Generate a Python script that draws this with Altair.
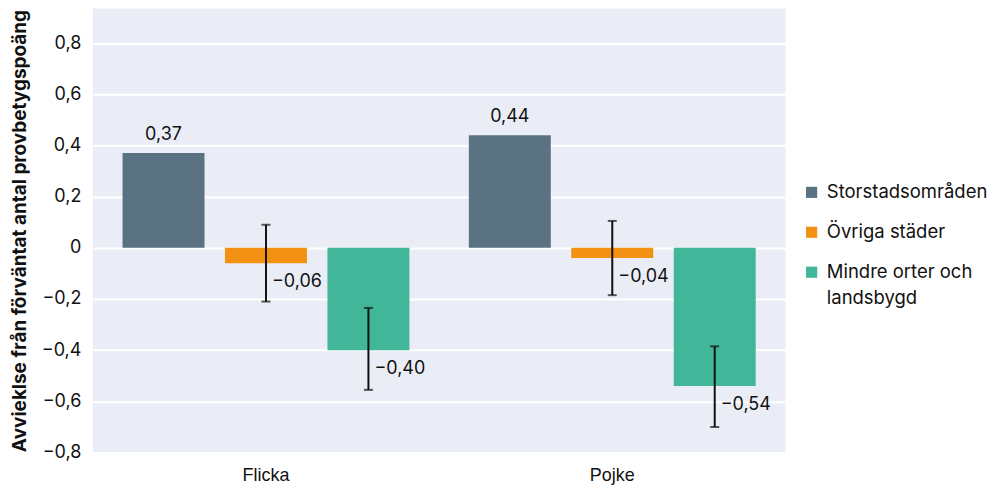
import altair as alt
import pandas as pd

groups = ["Flicka", "Flicka", "Flicka", "Pojke", "Pojke", "Pojke"]
areas = ["Storstadsområden", "Övriga städer", "Mindre orter och landsbygd"] * 2
values = [0.37, -0.06, -0.40, 0.44, -0.04, -0.54]
err_lo = [None, -0.21, -0.555, None, -0.185, -0.70]
err_hi = [None, 0.09, -0.235, None, 0.105, -0.385]

area_order = ["Storstadsområden", "Övriga städer", "Mindre orter och landsbygd"]
colors = ["#5b7282", "#f39113", "#41b699"]

df = pd.DataFrame({"group": groups, "area": areas, "value": values,
                   "lo": err_lo, "hi": err_hi})

FONT = "Inter"

x = alt.X("group:N", title=None,
          scale=alt.Scale(paddingInner=0, paddingOuter=0),
          axis=alt.Axis(labelAngle=0, labelFontSize=18, labelFont="Liberation Sans",
                        labelColor="#111", ticks=False, domain=False, labelPadding=14))
xo = alt.XOffset("area:N", sort=area_order,
                 scale=alt.Scale(paddingInner=0.2, paddingOuter=0.29))
y_scale = alt.Scale(domain=[-0.8, 0.935], nice=False)

base = alt.Chart(df)

bars = base.mark_bar().encode(
    x=x, xOffset=xo,
    y=alt.Y("value:Q", scale=y_scale,
            title="Avvieklse från förväntat antal provbetygspoäng",
            axis=alt.Axis(values=[-0.8, -0.6, -0.4, -0.2, 0, 0.2, 0.4, 0.6, 0.8],
                          labelExpr="datum.value == 0 ? '0' : replace(format(datum.value, '.1f'), '.', ',')",
                          labelFontSize=18, labelFont=FONT, labelColor="#111",
                          ticks=False, domain=False, gridColor="white", gridWidth=2,
                          titleFontSize=19, titleFont=FONT, titleFontWeight="bold",
                          titleColor="#111", labelPadding=12, titlePadding=12)),
    color=alt.Color("area:N", sort=area_order,
                    scale=alt.Scale(domain=area_order, range=colors),
                    legend=alt.Legend(title=None, symbolType="square", symbolSize=125,
                                      labelFontSize=18.5, labelFont=FONT, labelColor="#111",
                                      rowPadding=21, orient="none", legendX=711, legendY=175,
                                      labelOffset=6, labelLimit=400, symbolStrokeWidth=0,
                                      labelExpr="datum.label == 'Mindre orter och landsbygd' ? ['Mindre orter och', 'landsbygd'] : datum.label")),
)

labeled = base.transform_calculate(
    txt="replace(format(datum.value, '.2f'), '.', ',')"
)

pos_text = labeled.transform_filter("datum.value > 0").mark_text(
    fontSize=18, font=FONT, color="#111", baseline="bottom", dy=-9
).encode(x=x, xOffset=xo, y=alt.Y("value:Q", scale=y_scale), text="txt:N")

err = base.transform_filter("isValid(datum.lo)")

rules = err.mark_rule(color="#111", strokeWidth=2).encode(
    x=x, xOffset=xo, y=alt.Y("lo:Q", scale=y_scale), y2="hi:Q")
cap_lo = err.mark_tick(color="#111", orient="horizontal", size=9, thickness=2).encode(
    x=x, xOffset=xo, y=alt.Y("lo:Q", scale=y_scale))
cap_hi = err.mark_tick(color="#111", orient="horizontal", size=9, thickness=2).encode(
    x=x, xOffset=xo, y=alt.Y("hi:Q", scale=y_scale))

neg_text = labeled.transform_filter("datum.value < 0").mark_text(
    fontSize=18, font=FONT, color="#111", align="left", baseline="middle", dx=6, dy=19
).encode(x=x, xOffset=xo, y=alt.Y("value:Q", scale=y_scale), text="txt:N")

chart = alt.layer(bars, pos_text, rules, cap_lo, cap_hi, neg_text).properties(
    width=694, height=445, padding={"left": 2, "top": 0, "right": 0, "bottom": 0},
    background="white"
).configure(
    style={"guide-label": {"lineHeight": 26}}
).configure_view(fill="#eaedf5", stroke=None)

chart.save("out.html", embed_options={"renderer": "svg", "actions": False})
